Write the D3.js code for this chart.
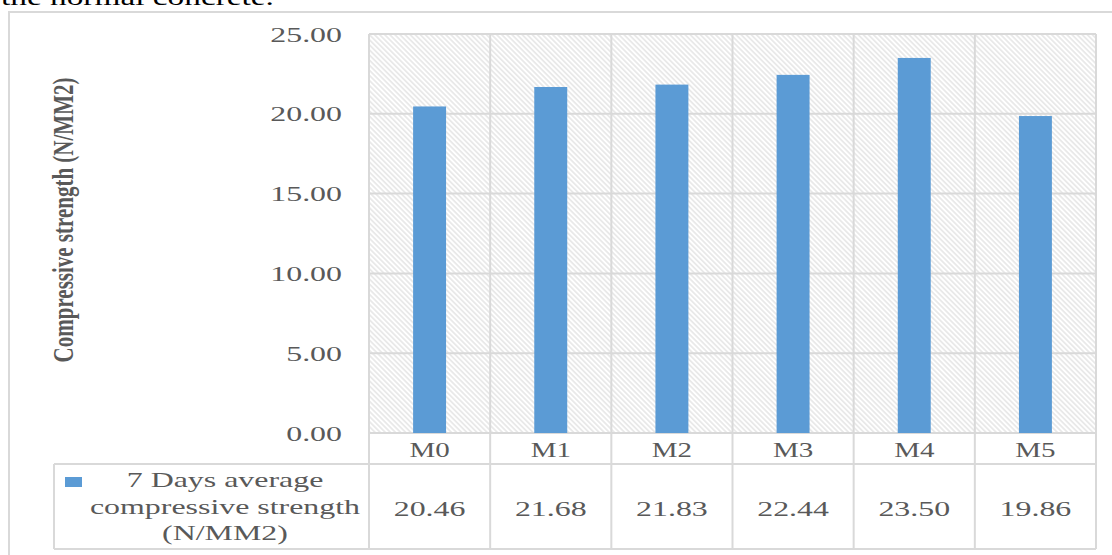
<!DOCTYPE html>
<html>
<head>
<meta charset="utf-8">
<script src="https://d3js.org/d3.v7.min.js"></script>
<style>
  html, body { margin: 0; padding: 0; background: #fff; }
  svg { display: block; }
  text { font-family: "Liberation Serif", "Times New Roman", serif; }
</style>
</head>
<body>
<svg id="chart" width="1112" height="555"></svg>
<script>
// Mix designations and 7-day compressive strengths
const categories = ["M0", "M1", "M2", "M3", "M4", "M5"];
const strength7Day = [20.46, 21.68, 21.83, 22.44, 23.50, 19.86];
const yTicks = [0, 5, 10, 15, 20, 25];
const seriesName = ["7 Days average", "compressive strength", "(N/MM2)"];
const yTitle = "Compressive strength (N/MM2)";
const captionTail = "the normal concrete.";

const W = 1112, H = 555;
const plot = { left: 369, right: 1096, top: 34, bottom: 433 };
const table = { left: 54, catBottom: 464, bottom: 549 };
const SX = 1.45;            // horizontal glyph stretch of the page
const gridColor = "#d9d9d9";
const textColor = "#595959";
const barColor = "#5b9bd5";

const svg = d3.select("#chart");

const x = d3.scaleBand().domain(categories).range([plot.left, plot.right]).paddingInner(0).paddingOuter(0);
const y = d3.scaleLinear().domain([0, 25]).range([plot.bottom, plot.top]);
const barW = x.bandwidth() * 0.272;

// stretched text helper
function label(g, str, px, py, opts = {}) {
  return g.append("text")
    .attr("transform", `translate(${px},${py}) scale(${SX},1)` + (opts.rotate ? ` rotate(${opts.rotate})` : ""))
    .attr("text-anchor", opts.anchor || "middle")
    .attr("dominant-baseline", opts.baseline || "alphabetic")
    .attr("font-size", opts.size || 22)
    .attr("font-weight", opts.weight || "normal")
    .attr("fill", opts.fill || textColor)
    .text(str);
}

// hatch fill for the plot area
const defs = svg.append("defs");
const pat = defs.append("pattern")
  .attr("id", "hatch")
  .attr("patternUnits", "userSpaceOnUse")
  .attr("width", 3.6).attr("height", 3.6)
  .attr("patternTransform", "rotate(45)");
pat.append("rect").attr("width", 3.6).attr("height", 3.6).attr("fill", "#ffffff");
pat.append("line").attr("x1", 0).attr("y1", 0.9).attr("x2", 3.6).attr("y2", 0.9)
  .attr("stroke", "#dedede").attr("stroke-width", 1.2);

// preceding caption line, cut at the top edge
label(svg, captionTail, 1, 5, { anchor: "start", size: 23, fill: "#000" });

// chart area frame
svg.append("path")
  .attr("d", `M9,${H} L9,12 L${W},12`)
  .attr("fill", "none").attr("stroke", gridColor).attr("stroke-width", 2);

// plot background
svg.append("rect")
  .attr("x", plot.left).attr("y", plot.top)
  .attr("width", plot.right - plot.left).attr("height", plot.bottom - plot.top)
  .attr("fill", "url(#hatch)");

// horizontal gridlines
svg.append("g").selectAll("line").data(yTicks).join("line")
  .attr("x1", plot.left).attr("x2", plot.right)
  .attr("y1", d => y(d)).attr("y2", d => y(d))
  .attr("stroke", gridColor).attr("stroke-width", 2);

// vertical category dividers through plot and data table
const edges = categories.map(c => x(c)).concat([plot.right]);
svg.append("g").selectAll("line").data(edges).join("line")
  .attr("x1", d => d).attr("x2", d => d)
  .attr("y1", plot.top).attr("y2", table.bottom)
  .attr("stroke", gridColor).attr("stroke-width", 2);

// table horizontal rules
svg.append("g").selectAll("line").data([table.catBottom, table.bottom]).join("line")
  .attr("x1", table.left).attr("x2", plot.right)
  .attr("y1", d => d).attr("y2", d => d)
  .attr("stroke", gridColor).attr("stroke-width", 2);
svg.append("line")
  .attr("x1", table.left).attr("x2", table.left)
  .attr("y1", table.catBottom).attr("y2", table.bottom)
  .attr("stroke", gridColor).attr("stroke-width", 2);

// bars
svg.append("g").selectAll("rect").data(strength7Day).join("rect")
  .attr("x", (d, i) => x(categories[i]) + x.bandwidth() / 2 - barW / 2)
  .attr("y", d => y(d))
  .attr("width", barW)
  .attr("height", d => y(0) - y(d))
  .attr("fill", barColor);

// y tick labels
const yAxisG = svg.append("g");
yTicks.forEach(t => label(yAxisG, d3.format(".2f")(t), 342, y(t) + 7.5, { anchor: "end", size: 22 }));

// y axis title
label(svg, yTitle, 73, 220, { rotate: -90, size: 21, weight: "bold", fill: textColor });

// category row
const catG = svg.append("g");
categories.forEach(c => label(catG, c, x(c) + x.bandwidth() / 2, 457, { size: 20 }));

// value row
const valG = svg.append("g");
strength7Day.forEach((v, i) => label(valG, d3.format(".2f")(v), x(categories[i]) + x.bandwidth() / 2, 516, { size: 22 }));

// legend cell
svg.append("rect").attr("x", 65).attr("y", 477).attr("width", 17).attr("height", 10).attr("fill", barColor);
const legG = svg.append("g");
seriesName.forEach((s, i) => label(legG, s, 225, 487 + i * 26.5, { size: 22 }));
</script>
</body>
</html>
